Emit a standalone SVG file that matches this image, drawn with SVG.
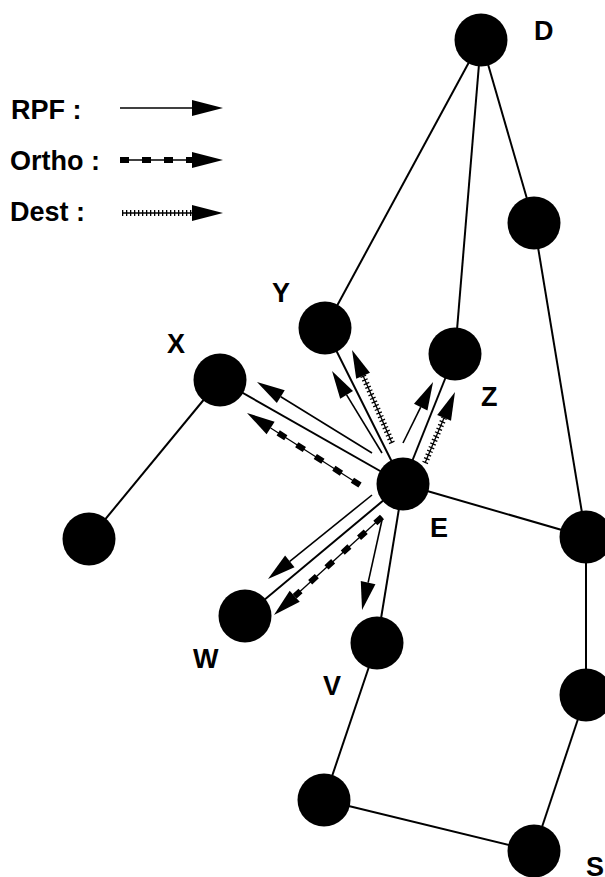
<svg xmlns="http://www.w3.org/2000/svg" width="605" height="877" viewBox="0 0 605 877">
<defs>
<style>
.edge{stroke:#000;stroke-width:2;fill:none}
.rpf{stroke:#000;stroke-width:1.6;fill:none}
.thin{stroke:#000;stroke-width:1.3;fill:none}
.odash{stroke:#000;stroke-width:6;stroke-dasharray:9 13;fill:none}
.dtick{stroke:#000;stroke-width:6;stroke-dasharray:1.3 2.7;fill:none}
.node{fill:#000}
.lbl{font-family:"Liberation Sans",Arial,sans-serif;font-weight:bold;font-size:27px;fill:#000}
</style>
<marker id="ah" markerUnits="userSpaceOnUse" markerWidth="28" markerHeight="15" refX="0" refY="7.5" orient="auto" viewBox="0 0 28 15" overflow="visible">
<path d="M0,0 L28,7.5 L0,15 z" fill="#000"/>
</marker>
<marker id="ahL" markerUnits="userSpaceOnUse" markerWidth="31" markerHeight="16" refX="0" refY="8" orient="auto" viewBox="0 0 31 16" overflow="visible">
<path d="M0,0 L31,8 L0,16 z" fill="#000"/>
</marker>
</defs>
<rect width="605" height="877" fill="#fff"/>
<g id="legend">
<text class="lbl" x="11" y="119">RPF :</text>
<text class="lbl" x="10" y="170">Ortho :</text>
<text class="lbl" x="10" y="221">Dest :</text>
<line class="rpf" x1="120" y1="108" x2="192" y2="108" marker-end="url(#ahL)"/>
<line class="thin" x1="120" y1="160" x2="192" y2="160" marker-end="url(#ahL)"/>
<line class="odash" x1="120" y1="160" x2="192" y2="160"/>
<line class="thin" x1="122" y1="213" x2="192" y2="213" marker-end="url(#ahL)"/>
<line class="dtick" x1="122" y1="213" x2="192" y2="213"/>
</g>
<g id="connectors">
<line class="edge" x1="481" y1="40" x2="325" y2="328"/>
<line class="edge" x1="481" y1="40" x2="455" y2="354"/>
<line class="edge" x1="481" y1="40" x2="534" y2="223"/>
<line class="edge" x1="534" y1="223" x2="586" y2="537"/>
<line class="edge" x1="403" y1="484" x2="586" y2="537"/>
<line class="edge" x1="403" y1="484" x2="325" y2="328"/>
<line class="edge" x1="403" y1="484" x2="455" y2="354"/>
<line class="edge" x1="403" y1="484" x2="220" y2="380"/>
<line class="edge" x1="403" y1="484" x2="245" y2="616"/>
<line class="edge" x1="403" y1="484" x2="377" y2="643"/>
<line class="edge" x1="220" y1="380" x2="89" y2="539"/>
<line class="edge" x1="377" y1="643" x2="324" y2="800"/>
<line class="edge" x1="324" y1="800" x2="534" y2="851"/>
<line class="edge" x1="534" y1="851" x2="586" y2="695"/>
<line class="edge" x1="586" y1="695" x2="586" y2="537"/>
<line class="rpf" x1="372" y1="453" x2="280.8" y2="396.7" marker-end="url(#ah)"/>
<line class="thin" x1="360" y1="485" x2="270.6" y2="428" marker-end="url(#ah)"/>
<line class="odash" x1="360" y1="485" x2="270.6" y2="428"/>
<line class="rpf" x1="382" y1="453" x2="346.6" y2="394.9" marker-end="url(#ah)"/>
<line class="thin" x1="392" y1="443" x2="363.1" y2="375.7" marker-end="url(#ah)"/>
<line class="dtick" x1="392" y1="443" x2="363.1" y2="375.7"/>
<line class="rpf" x1="403" y1="443" x2="420.7" y2="407.1" marker-end="url(#ah)"/>
<line class="thin" x1="425" y1="463" x2="444.1" y2="417.8" marker-end="url(#ah)"/>
<line class="dtick" x1="425" y1="463" x2="444.1" y2="417.8"/>
<line class="rpf" x1="372" y1="495" x2="289.8" y2="561.4" marker-end="url(#ah)"/>
<line class="thin" x1="382" y1="517" x2="294.7" y2="596.2" marker-end="url(#ah)"/>
<line class="odash" x1="382" y1="517" x2="294.7" y2="596.2"/>
<line class="rpf" x1="382" y1="520" x2="368.1" y2="582.7" marker-end="url(#ah)"/>
</g>
<g id="D"><circle class="node" cx="481" cy="40" r="26.5"/><text class="lbl" x="534" y="40">D</text></g>
<g id="R1"><circle class="node" cx="534" cy="223" r="26.5"/></g>
<g id="Y"><circle class="node" cx="325" cy="328" r="26.5"/><text class="lbl" x="272" y="302">Y</text></g>
<g id="Z"><circle class="node" cx="455" cy="354" r="26.5"/><text class="lbl" x="481" y="406">Z</text></g>
<g id="X"><circle class="node" cx="220" cy="380" r="26.5"/><text class="lbl" x="167" y="353">X</text></g>
<g id="E"><circle class="node" cx="403" cy="484" r="26.5"/><text class="lbl" x="430" y="537">E</text></g>
<g id="LB"><circle class="node" cx="89" cy="539" r="26.5"/></g>
<g id="R2"><circle class="node" cx="586" cy="537" r="26.5"/></g>
<g id="W"><circle class="node" cx="245" cy="616" r="26.5"/><text class="lbl" x="193" y="668">W</text></g>
<g id="V"><circle class="node" cx="377" cy="643" r="26.5"/><text class="lbl" x="323" y="695">V</text></g>
<g id="R3"><circle class="node" cx="586" cy="695" r="26.5"/></g>
<g id="BL"><circle class="node" cx="324" cy="800" r="26.5"/></g>
<g id="S"><circle class="node" cx="534" cy="851" r="26.5"/><text class="lbl" x="586" y="876">S</text></g>
</svg>
